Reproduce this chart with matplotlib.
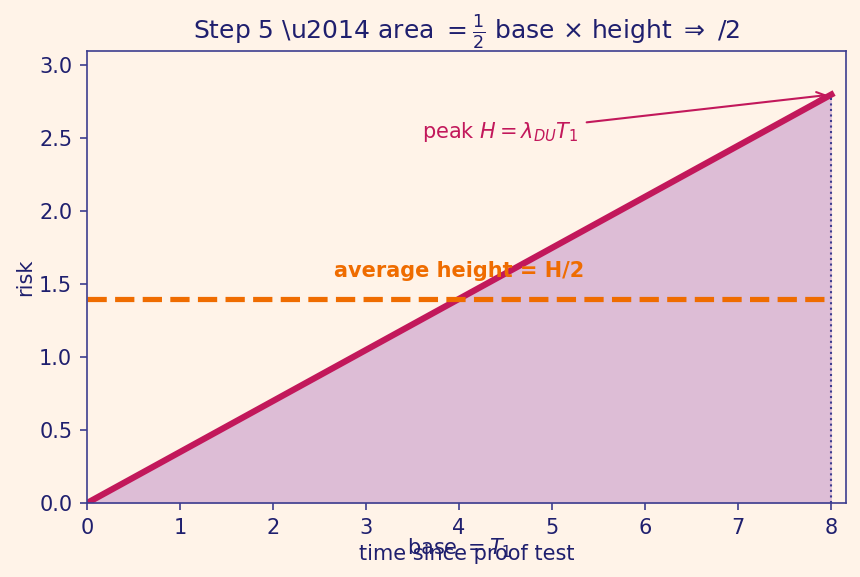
import matplotlib

matplotlib.use("Agg")
import matplotlib.pyplot as plt
import numpy as np

# data
lam_du = 0.35
T1 = 8.0
t = np.array([0.0, T1])
risk = lam_du * t
peak = lam_du * T1
avg = peak / 2

BG = "#fff3e8"
NAVY = "#1f1f6e"
SPINE = "#3d3d8f"
CRIMSON = "#c2185b"
ORANGE = "#ef6c00"
PURPLE = "#7b1fa2"

plt.rcParams.update({
    "font.size": 10,
    "text.color": NAVY,
    "axes.labelcolor": NAVY,
    "xtick.color": NAVY,
    "ytick.color": NAVY,
})

fig, ax = plt.subplots(figsize=(860 / 150, 577 / 150), dpi=150)
fig.patch.set_facecolor(BG)
ax.set_facecolor(BG)
for s in ax.spines.values():
    s.set_color(SPINE)
ax.tick_params(colors=SPINE, labelcolor=NAVY, labelsize=10)

ax.fill_between(t, 0, risk, color=PURPLE, alpha=0.25, linewidth=0)
ax.plot(t, risk, color=CRIMSON, linewidth=3)
ax.hlines(avg, 0, T1, color=ORANGE, linestyle="--", linewidth=2.5)
ax.plot([T1, T1], [0, peak], color=SPINE, linestyle=":", linewidth=1)

ax.text(4.0, avg + 0.12, "average height = H/2", color=ORANGE,
        fontweight="bold", ha="center", va="bottom", fontsize=10)
ax.annotate(r"peak $H=\lambda_{DU}T_1$", xy=(T1, peak), xytext=(3.6, 2.46),
            color=CRIMSON, fontsize=10, va="bottom",
            arrowprops=dict(arrowstyle="->", color=CRIMSON, lw=1))
ax.text(4.0, -0.23, r"base $= T_1$", ha="center", va="top", color=NAVY, fontsize=10)

ax.set_xlim(0, 8.16)
ax.set_ylim(0, 3.1)
ax.set_xlabel("time since proof test", fontsize=10, labelpad=3)
ax.set_ylabel("risk", fontsize=10, labelpad=2)
ax.set_title(r"Step 5 \u2014 area $=\frac{1}{2}$ base $\times$ height $\Rightarrow$ /2",
             fontsize=12, color=NAVY, pad=5)

fig.subplots_adjust(left=0.101, right=0.984, top=0.912, bottom=0.128)
fig.savefig("out.png", dpi=150, facecolor=BG)
